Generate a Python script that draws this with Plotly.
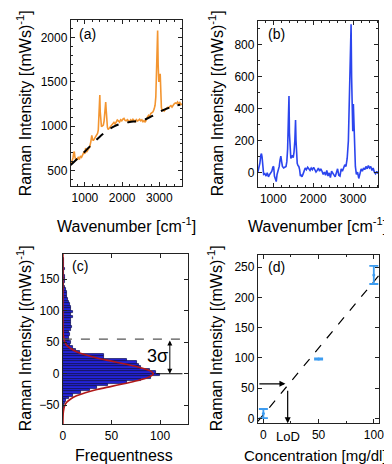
import plotly.graph_objects as go

# ---------------- data ----------------
# (a) raw Raman spectrum
wn_a = [620, 650, 680, 700, 715, 730, 760, 790, 820, 850, 880, 910, 940, 970, 1000, 1020, 1045, 1070,
        1100, 1130, 1160, 1185, 1205, 1225, 1250, 1280, 1310, 1340, 1360, 1378, 1401, 1412, 1425, 1445,
        1470, 1495, 1515, 1530, 1545, 1559, 1572, 1588, 1605, 1625, 1645, 1665, 1690, 1720, 1750, 1780,
        1810, 1840, 1870, 1900, 1930, 1960, 1990, 2020, 2050, 2080, 2110, 2140, 2170, 2200, 2230, 2260,
        2290, 2320, 2350, 2380, 2410, 2440, 2470, 2500, 2530, 2560, 2590, 2620, 2650, 2680, 2710, 2740,
        2770, 2800, 2830, 2860, 2885, 2905, 2925, 2940, 2954, 2968, 2985, 3000, 3023, 3038, 3055, 3075,
        3100, 3130, 3160, 3190, 3220, 3250, 3280, 3310, 3340, 3370, 3400, 3430, 3460, 3490, 3520, 3550,
        3580, 3610]
int_a = [560, 595, 640, 700, 712, 655, 610, 628, 645, 622, 662, 648, 685, 702, 688, 752, 705, 722,
         742, 765, 825, 895, 852, 835, 852, 878, 902, 918, 958, 1090, 1352, 1160, 1010, 992,
         1002, 1012, 1055, 1120, 1190, 1272, 1180, 1060, 985, 962, 972, 995, 1002, 1012, 1032, 1042,
         1022, 1052, 1068, 1058, 1045, 1072, 1060, 1078, 1086, 1064, 1060, 1072, 1060, 1048, 1071, 1058,
         1076, 1064, 1050, 1072, 1058, 1066, 1077, 1060, 1071, 1049, 1062, 1044, 1082, 1102, 1122, 1108,
         1142, 1152, 1162, 1192, 1235, 1330, 1560, 1820, 2080, 1700, 1500, 1540, 1590, 1380, 1210, 1172,
         1182, 1170, 1192, 1202, 1212, 1205, 1222, 1232, 1215, 1242, 1252, 1262, 1255, 1272, 1250, 1266,
         1242, 1250]
# (a) fitted background (dashed)
wn_bg = [620, 800, 1000, 1200, 1400, 1600, 1800, 2000, 2200, 2400, 2600, 2800, 3000, 3200, 3400, 3560]
int_bg = [560, 632, 712, 800, 880, 948, 1000, 1030, 1046, 1056, 1072, 1112, 1160, 1198, 1228, 1240]

# (b) background-corrected spectrum
wn_b = [615, 640, 665, 690, 705, 720, 740, 760, 790, 820, 850, 880, 910, 940, 965, 990, 1010, 1030,
        1050, 1075, 1095, 1120, 1150, 1170, 1190, 1210, 1230, 1260, 1290, 1320, 1340, 1360, 1378, 1394,
        1405, 1420, 1440, 1460, 1480, 1500, 1520, 1540, 1558, 1570, 1585, 1600, 1620, 1640, 1660, 1680,
        1700, 1720, 1750, 1780, 1800, 1830, 1860, 1890, 1920, 1950, 1980, 2010, 2040, 2070, 2100, 2130,
        2160, 2190, 2220, 2250, 2280, 2310, 2340, 2370, 2400, 2430, 2460, 2490, 2520, 2550, 2580, 2610,
        2640, 2670, 2700, 2730, 2760, 2790, 2820, 2850, 2880, 2905, 2930, 2948, 2961, 2975, 2990, 3005,
        3018, 3035, 3055, 3080, 3110, 3140, 3170, 3200, 3230, 3260, 3290, 3320, 3350, 3380, 3410, 3440,
        3470, 3500, 3530, 3560, 3590, 3620]
int_b = [5, 30, 60, 110, 120, 100, 30, -10, -5, -20, 0, -25, -10, 5, 10, 35, 40, -20,
         -40, -55, -10, 10, 40, 80, 105, 70, 40, 30, 35, 40, 70, 150, 330, 480,
         250, 110, 90, 100, 110, 95, 130, 200, 330, 200, 120, 60, 45, 40, 20, -20,
         -15, -25, -5, 15, 30, 20, 35, 25, 15, 30, 20, 35, 20, 5, 15, 30,
         10, 25, 10, -10, 5, -15, 15, -20, 0, -30, 10, -5, -10, -25, 0, 25,
         -15, -20, 25, 10, 30, 50, 40, 90, 200, 420, 700, 930, 600, 300, 260, 430,
         320, 120, 40, -10, 5, -35, -5, 25, 10, 30, 20, 40, 25, 45, 30, 40,
         15, 30, 5, -5, 10, -5]

# (c) histogram of noise
hist_centers = [-58, -54, -50, -46, -42, -38, -34, -30, -26, -22, -18, -14, -10, -6, -2, 2, 6, 10, 14,
                18, 22, 26, 30, 34, 38, 42, 46, 50, 54, 58, 62, 66, 70, 74, 78, 82, 86, 90, 94, 98, 102,
                106, 110, 114, 118, 122, 126, 130, 134, 138, 142, 146, 150, 154, 158, 162, 166, 170, 174,
                178, 182]
hist_counts = [0.5, 1, 1.5, 2, 3.5, 6, 10, 19, 28, 35, 46, 66, 80, 91, 100, 96, 90, 80, 78,
               76, 66, 42, 42, 17, 13, 10, 7, 8, 6, 6.5, 7, 6.5, 8, 9, 8, 8, 8, 10, 8, 10, 8,
               8, 7, 6, 5, 4, 4, 4, 3, 2, 1, 2, 2, 2.5, 1.5, 1, 2, 1, 1.5,
               1, 1.5]
# (c) gaussian fit curve (read points)
fit_c_y = [-80, -70, -60, -50, -45, -40, -35, -30, -25, -20, -15, -10, -5, 0, 5, 10, 15, 20, 25, 30,
           35, 40, 45, 50, 60, 70, 80, 190]
fit_c_x = [0, 0.1, 0.5, 2, 4, 8, 14, 23, 35, 50, 65, 79, 89, 93, 89, 79, 65, 50, 35, 23,
           14, 8, 4, 2, 0.5, 0.1, 0, 0]
three_sigma = 55

# (d) calibration
conc = [0, 50, 100]
conc_int = [8, 98, 237]
conc_err = [7.5, 1, 15]
fit_d_x = [-5, 105]
fit_d_y = [-5, 237]
lod = 22

# ---------------- layout helpers ----------------
W, H = 392, 464
def fx(p):
    return p / W
def fy(p):
    return 1 - p / H

FONT = "Liberation Sans, Arial, sans-serif"
ORANGE = "#f39530"
BLUE = "#2b45ee"
EBLUE = "#3d9cf0"

fig = go.Figure()

fig.add_trace(go.Scatter(x=wn_a, y=int_a, mode="lines", line=dict(color=ORANGE, width=1.6),
                         xaxis="x", yaxis="y", showlegend=False))
fig.add_trace(go.Scatter(x=wn_bg, y=int_bg, mode="lines", line=dict(color="black", width=2, dash="dash", shape="spline"),
                         xaxis="x", yaxis="y", showlegend=False))
fig.add_trace(go.Scatter(x=wn_b, y=int_b, mode="lines", line=dict(color=BLUE, width=1.6),
                         xaxis="x2", yaxis="y2", showlegend=False))
fig.add_trace(go.Bar(y=hist_centers, x=hist_counts, orientation="h", width=4,
                     marker=dict(color="#2424d8", line=dict(color="#0b0b4a", width=0.7)),
                     xaxis="x3", yaxis="y3", showlegend=False))
fig.add_trace(go.Scatter(x=fit_c_x, y=fit_c_y, mode="lines", line=dict(color="#b01818", width=1.6, shape="spline"),
                         xaxis="x3", yaxis="y3", showlegend=False))
fig.add_trace(go.Scatter(x=[0, 130], y=[three_sigma, three_sigma], mode="lines",
                         line=dict(color="#555555", width=1.2, dash="dash"),
                         xaxis="x3", yaxis="y3", showlegend=False))
fig.add_trace(go.Scatter(x=fit_d_x, y=fit_d_y, mode="lines", line=dict(color="black", width=1.2, dash="dash"),
                         xaxis="x4", yaxis="y4", showlegend=False))
fig.add_trace(go.Scatter(x=conc, y=conc_int, mode="markers", marker=dict(color=EBLUE, size=3),
                         error_y=dict(type="data", array=conc_err, width=4.5, thickness=1.8, color=EBLUE),
                         xaxis="x4", yaxis="y4", showlegend=False))

ax_common = dict(showline=True, linecolor="#222222", linewidth=1, mirror="ticks", ticks="inside",
                 ticklen=4, tickcolor="#222222", showgrid=False, zeroline=False,
                 tickfont=dict(family=FONT, size=12, color="black"))

fig.update_layout(
    width=W, height=H, autosize=False,
    margin=dict(l=0, r=0, t=0, b=0),
    paper_bgcolor="white", plot_bgcolor="white",
    bargap=0,
    xaxis=dict(domain=[fx(61), fx(175)], range=[620, 3620], tickvals=[1000, 2000, 3000], anchor="y",
               minor=dict(dtick=200, ticks="inside", ticklen=2, tickcolor="#222222"), **ax_common),
    yaxis=dict(domain=[fy(179), fy(12)], range=[320, 2200], tickvals=[500, 1000, 1500, 2000], anchor="x",
               minor=dict(dtick=100, ticks="inside", ticklen=2, tickcolor="#222222"), **ax_common),
    xaxis2=dict(domain=[fx(252), fx(375)], range=[615, 3630], tickvals=[1000, 2000, 3000], anchor="y2",
                minor=dict(dtick=200, ticks="inside", ticklen=2, tickcolor="#222222"), **ax_common),
    yaxis2=dict(domain=[fy(180), fy(13)], range=[-90, 950], tickvals=[0, 200, 400, 600, 800], anchor="x2",
                minor=dict(dtick=100, ticks="inside", ticklen=2, tickcolor="#222222"), **ax_common),
    xaxis3=dict(domain=[fx(53), fx(181)], range=[0, 129], tickvals=[0, 50, 100], anchor="y3", **ax_common),
    yaxis3=dict(domain=[fy(418), fy(247)], range=[-80, 190], tickvals=[-50, 0, 50, 100, 150], anchor="x3",
                **ax_common),
    xaxis4=dict(domain=[fx(252), fx(376)], range=[-5, 105], tickvals=[0, 50, 100], anchor="y4",
                minor=dict(dtick=25, ticks="inside", ticklen=2, tickcolor="#222222"), **ax_common),
    yaxis4=dict(domain=[fy(417), fy(248)], range=[-8, 270], tickvals=[0, 50, 100, 150, 200, 250], anchor="x4",
                **ax_common),
)

ytitle = "Raman Intensity [(mWs)<sup>-1</sup>]"
ann = []
def txt(x, y, s, size=16, angle=0, xanchor="center", xref="paper", yref="paper"):
    ann.append(dict(x=x, y=y, xref=xref, yref=yref, text=s, showarrow=False, textangle=angle,
                    xanchor=xanchor, yanchor="middle", borderpad=0,
                    font=dict(family=FONT, size=size, color="black")))

txt(fx(13), fy(96), ytitle, angle=-90)
txt(fx(209), fy(96), ytitle, angle=-90)
txt(fx(13), fy(332), ytitle, angle=-90)
txt(fx(208), fy(332), ytitle, angle=-90)
txt(fx(118), fy(218), "Wavenumber [cm<sup>-1</sup>]")
txt(fx(313), fy(218), "Wavenumber [cm<sup>-1</sup>]")
txt(fx(115), fy(449), "Frequentness")
txt(fx(311), fy(449), "Concentration [mg/dl]", size=15)
txt(fx(68), fy(26), "(a)", size=14, xanchor="left")
txt(fx(261), fy(26), "(b)", size=14, xanchor="left")
txt(fx(61), fy(259), "(c)", size=14, xanchor="left")
txt(fx(261), fy(260), "(d)", size=14, xanchor="left")
txt(97, 28, "3σ", size=18, xref="x3", yref="y3")
txt(lod, fy(430), "LoD", size=13, xref="x4")

# arrows
ann.append(dict(x=110, y=0, ax=110, ay=three_sigma, xref="x3", yref="y3", axref="x3", ayref="y3",
                text="", showarrow=True, arrowhead=2, arrowside="end+start", arrowsize=1, arrowwidth=1,
                arrowcolor="black"))
ann.append(dict(x=lod - 2, y=57, ax=-5, ay=57, xref="x4", yref="y4", axref="x4", ayref="y4",
                text="", showarrow=True, arrowhead=2, arrowsize=1, arrowwidth=1.2, arrowcolor="black"))
ann.append(dict(x=lod, y=-8, ax=lod, ay=48, xref="x4", yref="y4", axref="x4", ayref="y4",
                text="", showarrow=True, arrowhead=2, arrowsize=1, arrowwidth=1.2, arrowcolor="black"))
fig.update_layout(annotations=ann)

fig.add_shape(type="line", x0=96, x1=123, y0=0, y1=0, xref="x3", yref="y3",
              line=dict(color="black", width=1))

fig.write_html("out.html")
